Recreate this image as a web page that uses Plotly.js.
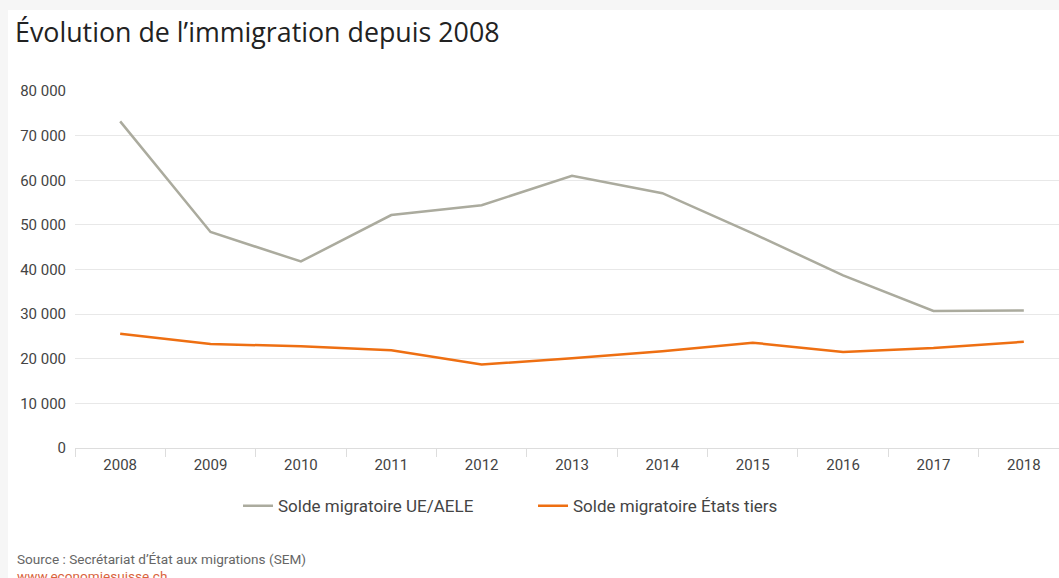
<!DOCTYPE html>
<html>
<head>
<meta charset="utf-8">
<script src="https://cdn.plot.ly/plotly-3.0.1.min.js"></script>
<style>
html, body { margin: 0; padding: 0; background: #f6f6f6; width: 1059px; height: 578px; overflow: hidden; }
#chart { position: absolute; left: 8px; top: 10px; width: 1070px; height: 568px; background: #ffffff; }
</style>
</head>
<body>
<div id="chart"></div>
<script>
const years = ["2008","2009","2010","2011","2012","2013","2014","2015","2016","2017","2018"];
const ueAele = [73200, 48400, 41800, 52200, 54400, 61000, 57100, 48100, 38700, 30700, 30800];
const etatsTiers = [25600, 23300, 22800, 21900, 18700, 20100, 21700, 23600, 21500, 22400, 23800];
const seriesNames = ["Solde migratoire UE/AELE", "Solde migratoire États tiers"];
const yTicks = [0, 10000, 20000, 30000, 40000, 50000, 60000, 70000, 80000];

const tickFont = {family: "Roboto, 'DejaVu Sans', sans-serif", size: 15, color: "#444444"};

const traces = [
  {x: years, y: ueAele, name: seriesNames[0], type: "scatter", mode: "lines",
   line: {color: "#abab9e", width: 2.5}, hoverinfo: "x+y"},
  {x: years, y: etatsTiers, name: seriesNames[1], type: "scatter", mode: "lines",
   line: {color: "#ee6f12", width: 2.5}, hoverinfo: "x+y"}
];

const layout = {
  width: 1070, height: 568,
  margin: {l: 67, r: 9, t: 81, b: 130},
  paper_bgcolor: "#ffffff", plot_bgcolor: "#ffffff",
  separators: ", ",
  showlegend: true,
  title: {
    text: "Évolution de l’immigration depuis 2008",
    font: {family: "'Open Sans', sans-serif", size: 26.8, color: "#222222"},
    x: 7/1070, xanchor: "left", xref: "container",
    y: 1 - 23/568, yanchor: "middle", yref: "container"
  },
  xaxis: {
    type: "category",
    range: [-0.5, 10.5],
    showgrid: false, zeroline: false,
    showline: true, linecolor: "#dddddd", linewidth: 1,
    ticks: "outside", tickson: "boundaries", ticklen: 8, tickcolor: "#dddddd", tickwidth: 1,
    ticklabelstandoff: 3,
    tickfont: tickFont, fixedrange: true
  },
  yaxis: {
    range: [0, 80000],
    tickvals: yTicks,
    tickformat: ",d",
    showgrid: true, gridcolor: "#e8e8e8", gridwidth: 1,
    zeroline: false, showline: false,
    ticks: "", ticklabelstandoff: 8,
    tickfont: tickFont, fixedrange: true
  },
  legend: {
    orientation: "h",
    x: 0.164, xanchor: "left",
    y: -0.163, yanchor: "middle",
    font: {family: "Roboto, 'DejaVu Sans', sans-serif", size: 17, color: "#444444"},
    itemwidth: 30,
    entrywidth: 250, entrywidthmode: "pixels",
    bgcolor: "rgba(0,0,0,0)"
  },
  annotations: [
    {text: "Source : Secrétariat d’État aux migrations (SEM)", xref: "paper", yref: "paper",
     x: -0.0605, y: -0.31, xanchor: "left", yanchor: "middle", showarrow: false,
     font: {family: "Roboto, 'DejaVu Sans', sans-serif", size: 13.6, color: "#666666"}},
    {text: "www.economiesuisse.ch", xref: "paper", yref: "paper",
     x: -0.0605, y: -0.358, xanchor: "left", yanchor: "middle", showarrow: false,
     font: {family: "Roboto, 'DejaVu Sans', sans-serif", size: 13.6, color: "#d9643e"}}
  ]
};

Plotly.newPlot("chart", traces, layout, {displayModeBar: false, staticPlot: true});
</script>
</body>
</html>
